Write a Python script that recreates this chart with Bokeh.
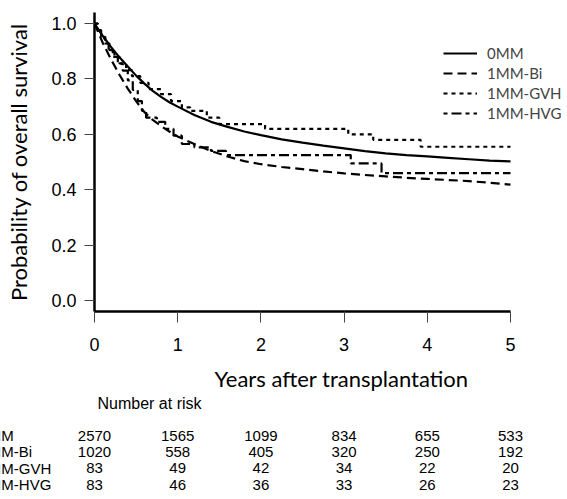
from bokeh.plotting import figure
from bokeh.layouts import column
from bokeh.models import (Label, Legend, LegendItem, FixedTicker,
                          NumeralTickFormatter, Range1d, ColumnDataSource)
from bokeh.core.properties import value
from bokeh.embed import file_html
from bokeh.resources import INLINE

# Kaplan-Meier overall survival by HLA mismatch group
groups = ["0MM", "1MM-Bi", "1MM-GVH", "1MM-HVG"]

t_0mm = [0, 0.1, 0.2, 0.3, 0.4, 0.5, 0.6, 0.7, 0.8, 0.9, 1.0, 1.2, 1.4, 1.6,
         1.8, 2.0, 2.25, 2.5, 2.75, 3.0, 3.25, 3.5, 3.75, 4.0, 4.25, 4.5, 4.75, 5.0]
s_0mm = [1.0, 0.955, 0.915, 0.878, 0.845, 0.812, 0.783, 0.757, 0.735, 0.716,
         0.70, 0.67, 0.645, 0.627, 0.61, 0.597, 0.582, 0.57, 0.559, 0.549,
         0.539, 0.531, 0.525, 0.52, 0.515, 0.51, 0.505, 0.502]

t_bi = [0, 0.1, 0.2, 0.3, 0.4, 0.5, 0.6, 0.7, 0.8, 0.9, 1.0, 1.2, 1.4, 1.6,
        1.8, 2.0, 2.25, 2.5, 2.75, 3.0, 3.25, 3.5, 3.75, 4.0, 4.25, 4.5, 4.75, 5.0]
s_bi = [1.0, 0.93, 0.87, 0.815, 0.765, 0.72, 0.68, 0.652, 0.63, 0.61, 0.592,
        0.565, 0.54, 0.52, 0.503, 0.492, 0.482, 0.474, 0.466, 0.459, 0.453,
        0.448, 0.443, 0.439, 0.435, 0.431, 0.425, 0.418]

t_gvh = [0, 0.04, 0.08, 0.13, 0.18, 0.24, 0.3, 0.38, 0.45, 0.55, 0.65, 0.8,
         0.92, 1.05, 1.15, 1.35, 1.5, 2.05, 3.05, 3.35, 3.92, 5.0]
s_gvh = [1.0, 0.976, 0.952, 0.928, 0.904, 0.88, 0.856, 0.832, 0.81, 0.786,
         0.763, 0.745, 0.72, 0.697, 0.685, 0.66, 0.637, 0.62, 0.60, 0.58,
         0.555, 0.555]

t_hvg = [0, 0.04, 0.08, 0.12, 0.17, 0.22, 0.28, 0.34, 0.4, 0.46, 0.52, 0.57,
         0.62, 0.75, 0.85, 0.95, 1.05, 1.2, 1.4, 1.58, 3.08, 3.45, 5.0]
s_hvg = [1.0, 0.976, 0.952, 0.928, 0.904, 0.88, 0.855, 0.83, 0.795, 0.76,
         0.72, 0.685, 0.66, 0.645, 0.62, 0.595, 0.565, 0.553, 0.54, 0.525,
         0.495, 0.46, 0.46]

# Number at risk table
risk_years = [0, 1, 2, 3, 4, 5]
risk_0mm = [2570, 1565, 1099, 834, 655, 533]
risk_bi = [1020, 558, 405, 320, 250, 192]
risk_gvh = [83, 49, 42, 34, 22, 20]
risk_hvg = [83, 46, 36, 33, 26, 23]

y_ticks = [0.0, 0.2, 0.4, 0.6, 0.8, 1.0]

TITLE_FONT = "Lato"
NUM_FONT = "Liberation Sans"

W = 567
LEFT = 94          # px from canvas left to the time origin
PX_PER_YEAR = 83.2
X_START = -LEFT / PX_PER_YEAR
X_END = (W - LEFT) / PX_PER_YEAR

# ---------------- survival curves ----------------
p = figure(width=W, height=360, output_backend="svg", toolbar_location=None,
           x_range=Range1d(0, X_END), y_range=Range1d(-0.04, 1.04),
           min_border_left=LEFT, min_border_right=0, min_border_top=12,
           min_border_bottom=49)
p.frame_align = False
p.outline_line_color = None
p.xgrid.visible = False
p.ygrid.visible = False

r0 = p.line(t_0mm, s_0mm, line_color="black", line_width=2.2)
r1 = p.line(t_bi, s_bi, line_color="black", line_width=2.2, line_dash="9 5")
r2 = p.step(t_gvh, s_gvh, mode="after", line_color="black", line_width=2.2,
            line_dash="4 4")
r3 = p.step(t_hvg, s_hvg, mode="after", line_color="black", line_width=2.2,
            line_dash="4 4 10 4")

for ax in (p.xaxis[0], p.yaxis[0]):
    ax.axis_line_color = "black"
    ax.axis_line_width = 2.5
    ax.major_tick_line_color = "#444444"
    ax.major_tick_line_width = 1
    ax.major_tick_in = 0
    ax.minor_tick_line_color = None
    ax.major_label_text_font = NUM_FONT
    ax.major_label_text_font_size = "18px"
    ax.major_label_text_color = "black"

p.yaxis.ticker = FixedTicker(ticks=y_ticks)
p.yaxis.formatter = NumeralTickFormatter(format="0.0")
p.yaxis.major_tick_out = 10
p.yaxis.major_label_standoff = 8
p.yaxis.axis_label = "Probability of overall survival"
p.yaxis.axis_label_text_font = TITLE_FONT
p.yaxis.axis_label_text_font_style = "normal"
p.yaxis.axis_label_text_font_size = "22px"
p.yaxis.axis_label_standoff = 16
p.yaxis.axis_label_text_color = "black"

p.xaxis.ticker = FixedTicker(ticks=risk_years)
p.xaxis.formatter = NumeralTickFormatter(format="0")
p.xaxis.bounds = (0, 5)
p.xaxis.major_tick_out = 11
p.xaxis.major_label_standoff = 15

legend = Legend(items=[LegendItem(label=g, renderers=[r])
                       for g, r in zip(groups, [r0, r1, r2, r3])],
                location=(349, 188), glyph_width=34, glyph_height=20,
                label_height=20, spacing=0, padding=0, margin=0,
                label_standoff=10, border_line_color=None,
                background_fill_alpha=0, label_text_font=TITLE_FONT,
                label_text_font_size="15px")
p.add_layout(legend)

# ---------------- axis title and number-at-risk table ----------------
q = figure(width=W, height=139, output_backend="svg", toolbar_location=None,
           x_range=Range1d(X_START, X_END), y_range=Range1d(0, 139),
           min_border=0)
q.frame_align = False
q.outline_line_color = None
q.xaxis.visible = False
q.yaxis.visible = False
q.xgrid.visible = False
q.ygrid.visible = False

q.add_layout(Label(x=341, y=121, x_units="screen", y_units="screen",
                   text="Years after transplantation", text_font=TITLE_FONT,
                   text_font_size="22px", text_align="center",
                   text_baseline="middle", text_color="black"))
q.add_layout(Label(x=97, y=96, x_units="screen", y_units="screen",
                   text="Number at risk", text_font=NUM_FONT,
                   text_font_size="16px", text_align="left",
                   text_baseline="middle", text_color="black"))

row_y = [64, 48, 31.5, 15]
xs, ys, txt = [], [], []
for name, counts, yy in zip(groups, [risk_0mm, risk_bi, risk_gvh, risk_hvg], row_y):
    q.add_layout(Label(x=-20, y=yy, x_units="screen", y_units="screen",
                       text=name, text_font=NUM_FONT, text_font_size="15px",
                       text_align="left", text_baseline="middle",
                       text_color="black"))
    for yr, n in zip(risk_years, counts):
        xs.append(yr)
        ys.append(yy)
        txt.append(str(n))

q.text(x="x", y="y", text="t", source=ColumnDataSource(dict(x=xs, y=ys, t=txt)),
       text_font=value(NUM_FONT), text_font_size="15px", text_align="center",
       text_baseline="middle", text_color="black")

layout = column(p, q, spacing=0)
open("out.html", "w").write(file_html(layout, INLINE))
